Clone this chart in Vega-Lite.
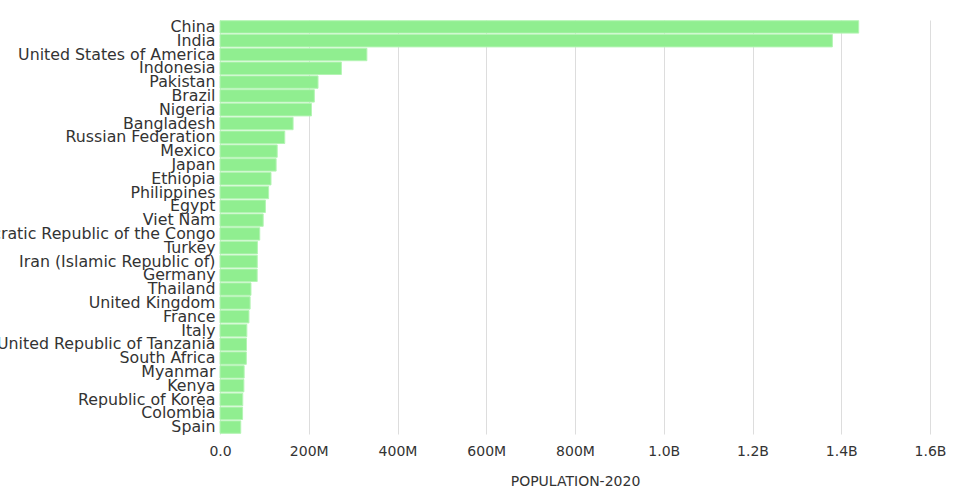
{
  "$schema": "https://vega.github.io/schema/vega-lite/v6.json",
  "autosize": {"type": "none"},
  "padding": {"left": 220, "top": 20, "right": 30, "bottom": 66},
  "width": 710,
  "height": 414,
  "background": "white",
  "config": {"view": {"stroke": null}, "font": "DejaVu Sans"},
  "data": {"values": [
    {"country": "China", "population": 1439323776},
    {"country": "India", "population": 1380004385},
    {"country": "United States of America", "population": 331002651},
    {"country": "Indonesia", "population": 273523615},
    {"country": "Pakistan", "population": 220892340},
    {"country": "Brazil", "population": 212559417},
    {"country": "Nigeria", "population": 206139589},
    {"country": "Bangladesh", "population": 164689383},
    {"country": "Russian Federation", "population": 145934462},
    {"country": "Mexico", "population": 128932753},
    {"country": "Japan", "population": 126476461},
    {"country": "Ethiopia", "population": 114963588},
    {"country": "Philippines", "population": 109581078},
    {"country": "Egypt", "population": 102334404},
    {"country": "Viet Nam", "population": 97338579},
    {"country": "Democratic Republic of the Congo", "population": 89561403},
    {"country": "Turkey", "population": 84339067},
    {"country": "Iran (Islamic Republic of)", "population": 83992949},
    {"country": "Germany", "population": 83783942},
    {"country": "Thailand", "population": 69799978},
    {"country": "United Kingdom", "population": 67886011},
    {"country": "France", "population": 65273511},
    {"country": "Italy", "population": 60461826},
    {"country": "United Republic of Tanzania", "population": 59734218},
    {"country": "South Africa", "population": 59308690},
    {"country": "Myanmar", "population": 54409800},
    {"country": "Kenya", "population": 53771296},
    {"country": "Republic of Korea", "population": 51269185},
    {"country": "Colombia", "population": 50882891},
    {"country": "Spain", "population": 46754778}
  ]},
  "mark": {"type": "bar", "color": "#90ee90", "stroke": "#b4f4b4", "strokeWidth": 1},
  "encoding": {
    "y": {
      "field": "country", "type": "nominal", "sort": null, "title": null,
      "scale": {"paddingInner": 0.1, "paddingOuter": 0.05},
      "axis": {"ticks": false, "domain": false, "grid": false, "labelFontSize": 15.8, "labelColor": "#333", "labelPadding": 5, "labelLimit": 0, "labelOverlap": false}
    },
    "x": {
      "field": "population", "type": "quantitative", "title": "POPULATION-2020",
      "scale": {"domain": [0, 1600000000]},
      "axis": {"labelExpr": "replace(format(datum.value, '.2s'), 'G', 'B')", "tickCount": 8, "labelFlush": false, "ticks": false, "domain": false, "gridColor": "#ddd", "labelFontSize": 14, "labelColor": "#333", "labelPadding": 10, "titleFontSize": 14, "titleFontWeight": "normal", "titleColor": "#333", "titlePadding": 16}
    }
  }
}
